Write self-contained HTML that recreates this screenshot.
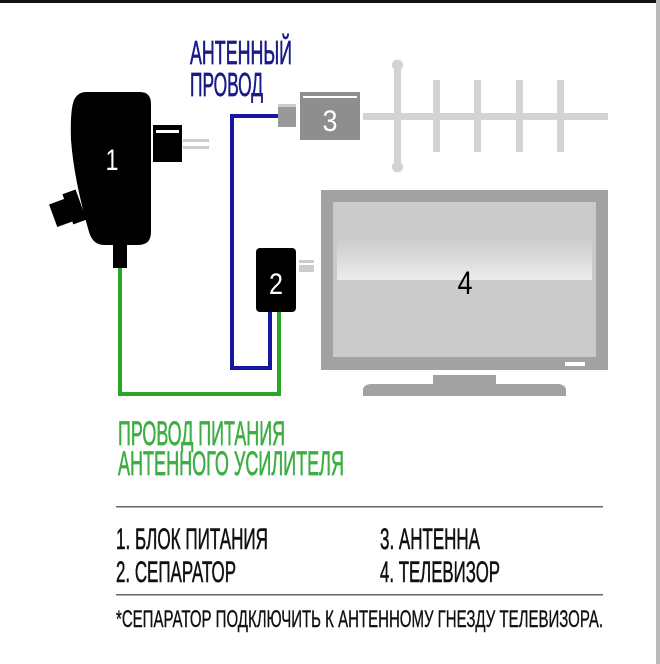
<!DOCTYPE html>
<html><head><meta charset="utf-8"><style>
html,body{margin:0;padding:0;background:#fff}
svg{display:block}
text{font-family:"Liberation Sans",sans-serif}
</style></head><body>
<svg width="660" height="664" viewBox="0 0 660 664" xmlns="http://www.w3.org/2000/svg">
<defs>
<linearGradient id="hl" x1="0" y1="0" x2="0" y2="1">
<stop offset="0" stop-color="#cbcbcb"/><stop offset="1" stop-color="#ececec"/>
</linearGradient>
</defs>
<rect x="0" y="0" width="660" height="664" fill="#fff"/>
<rect x="0" y="0" width="660" height="3" fill="#111"/>
<rect x="656" y="0" width="4" height="664" fill="#bbb"/>

<polyline points="278,116 232,116 232,368 270,368 270,312" fill="none" stroke="#1616a0" stroke-width="4"/>
<polyline points="120,266 120,394 279,394 279,312" fill="none" stroke="#2ba52b" stroke-width="4"/>

<path d="M86,92 L140,92 Q151,92 151,104 L151,232 Q151,245 138,245 L104,245 Q93,245 89,232 Q74,180 71,140 Q70,110 74,100 Q78,92 86,92 Z" fill="#000"/>
<text x="112" y="170" font-size="30" fill="#fff" text-anchor="middle" textLength="13" lengthAdjust="spacingAndGlyphs">1</text>
<rect x="153" y="125" width="29" height="37" fill="#000"/>
<rect x="156" y="130" width="23" height="3" fill="#fff"/>
<rect x="183" y="139" width="26" height="3" fill="#ccc"/>
<rect x="183" y="146" width="26" height="3" fill="#ccc"/>
<g transform="rotate(-20 66 210)">
<rect x="52" y="199" width="18" height="24" fill="#000"/>
<rect x="68" y="194" width="14" height="32" fill="#000"/>
</g>
<rect x="113" y="244" width="14" height="24" fill="#000"/>

<rect x="256" y="248" width="40" height="64" rx="4" fill="#000"/>
<text x="276" y="294" font-size="30" fill="#fff" text-anchor="middle" textLength="14" lengthAdjust="spacingAndGlyphs">2</text>
<rect x="299" y="260" width="15" height="3" fill="#ccc"/>
<rect x="299" y="265" width="15" height="7" fill="#ccc"/>

<rect x="278" y="107" width="18" height="20" fill="#999"/>
<rect x="278" y="104" width="18" height="3" fill="#ccc"/>
<rect x="300" y="92" width="60" height="48" fill="#8e8e8e"/>
<rect x="303" y="96" width="54" height="2" fill="#fff"/>
<text x="330" y="131" font-size="30" fill="#fff" text-anchor="middle" textLength="15" lengthAdjust="spacingAndGlyphs">3</text>
<rect x="363" y="113" width="245" height="7" fill="#d3d3d3"/>
<rect x="394" y="64" width="7" height="103" fill="#d3d3d3"/>
<circle cx="397.5" cy="65" r="5.5" fill="#d3d3d3"/>
<circle cx="397.5" cy="167" r="5.5" fill="#d3d3d3"/>
<rect x="433" y="80" width="7" height="72" fill="#d3d3d3"/>
<rect x="474" y="80" width="7" height="72" fill="#d3d3d3"/>
<rect x="516" y="80" width="7" height="72" fill="#d3d3d3"/>
<rect x="557" y="80" width="7" height="72" fill="#d3d3d3"/>

<rect x="321" y="190" width="287" height="180" fill="#a2a2a2"/>
<rect x="333" y="202" width="263" height="155" fill="#cbcbcb"/>
<rect x="337" y="238" width="255" height="42" fill="url(#hl)"/>
<text x="465" y="294" font-size="32" fill="#000" text-anchor="middle" textLength="15" lengthAdjust="spacingAndGlyphs">4</text>
<rect x="565" y="362" width="20" height="4" fill="#fff"/>
<rect x="433" y="375" width="63" height="12" fill="#a2a2a2"/>
<rect x="363" y="384" width="203" height="12" rx="8" fill="#a2a2a2"/>
<rect x="363" y="390" width="203" height="6" fill="#a2a2a2"/>

<g stroke-width="0.7">
<text x="190" y="64" font-size="33" fill="#1a1a8a" stroke="#1a1a8a" textLength="102" lengthAdjust="spacingAndGlyphs">АНТЕННЫЙ</text>
<text x="190" y="96" font-size="33" fill="#1a1a8a" stroke="#1a1a8a" textLength="73" lengthAdjust="spacingAndGlyphs">ПРОВОД</text>
<text x="118" y="445" font-size="34" fill="#3cae43" stroke="#3cae43" textLength="167" lengthAdjust="spacingAndGlyphs">ПРОВОД ПИТАНИЯ</text>
<text x="118" y="475" font-size="34" fill="#3cae43" stroke="#3cae43" textLength="226" lengthAdjust="spacingAndGlyphs">АНТЕННОГО УСИЛИТЕЛЯ</text>
</g>

<rect x="116" y="506" width="487" height="1.5" fill="#666"/>
<g stroke="#111" stroke-width="0.6">
<text x="116" y="549" font-size="30" fill="#111" textLength="152" lengthAdjust="spacingAndGlyphs">1. БЛОК ПИТАНИЯ</text>
<text x="116" y="582" font-size="30" fill="#111" textLength="120" lengthAdjust="spacingAndGlyphs">2. СЕПАРАТОР</text>
<text x="380" y="549" font-size="30" fill="#111" textLength="100" lengthAdjust="spacingAndGlyphs">3. АНТЕННА</text>
<text x="380" y="582" font-size="30" fill="#111" textLength="120" lengthAdjust="spacingAndGlyphs">4. ТЕЛЕВИЗОР</text>
</g>
<rect x="116" y="594" width="487" height="1.5" fill="#666"/>
<text x="116" y="627" font-size="24" fill="#111" stroke="#111" stroke-width="0.4" textLength="487" lengthAdjust="spacingAndGlyphs">*СЕПАРАТОР ПОДКЛЮЧИТЬ К АНТЕННОМУ ГНЕЗДУ ТЕЛЕВИЗОРА.</text>
</svg>
</body></html>
